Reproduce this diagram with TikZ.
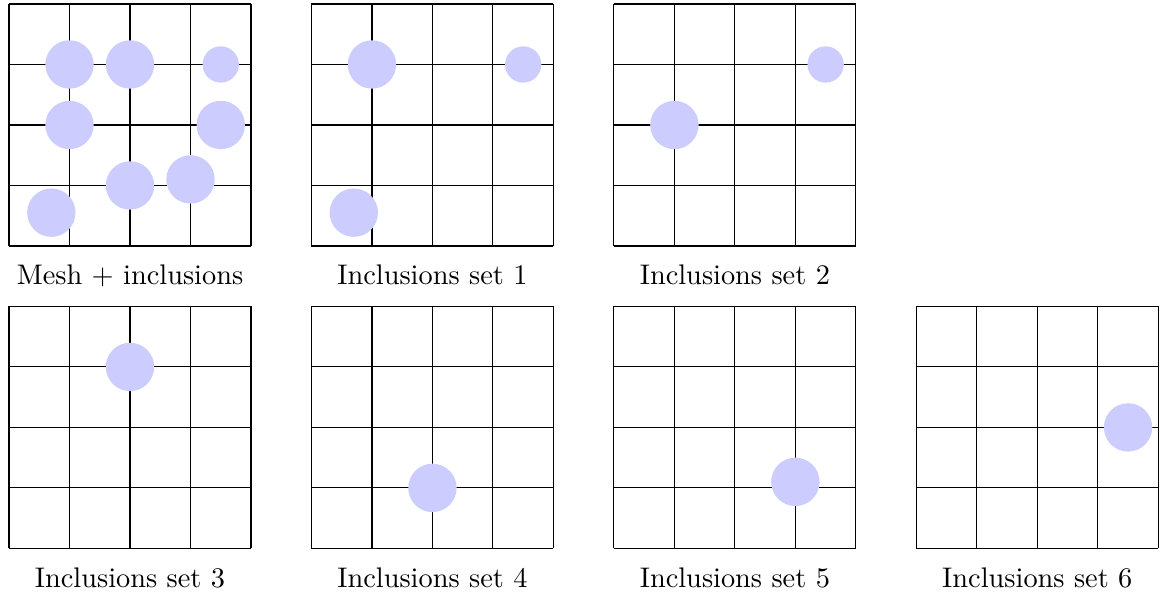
\documentclass[tikz,border=0pt]{standalone}
\usepackage{tikz}
\usetikzlibrary{positioning}
\definecolor{inclFill}{HTML}{CCCCFF}
\tikzset{
  meshLine/.style={draw=black, line width=0.4pt},
  inclBig/.style={fill=inclFill, draw=none},
  inclSmall/.style={fill=inclFill, draw=none},
  setLabel/.style={anchor=base, font=\normalsize},
}

\begin{document}
\begin{tikzpicture}[scale=0.75]
  \useasboundingbox (-0.149,-5.77) rectangle (19.028,4.066);

  % meshes
  \foreach \px/\py in {0/0, 5/0, 10/0, 0/-5, 5/-5, 10/-5, 15/-5}
    \draw[meshLine] (\px,\py) grid (\px+4,\py+4);

  % mesh + all inclusions
  \foreach \cx/\cy in {1/3, 2/3, 1/2, 3.5/2, 2/1, 3/1.1, 0.7/0.55}
    \fill[inclBig] (\cx,\cy) circle (0.4);
  \fill[inclSmall] (3.5,3) circle (0.3);

  % set 1
  \fill[inclBig] (6,3) circle (0.4);
  \fill[inclSmall] (8.5,3) circle (0.3);
  \fill[inclBig] (5.7,0.55) circle (0.4);
  % set 2
  \fill[inclSmall] (13.5,3) circle (0.3);
  \fill[inclBig] (11,2) circle (0.4);
  % sets 3 to 6
  \fill[inclBig] (2,-2) circle (0.4);
  \fill[inclBig] (7,-4) circle (0.4);
  \fill[inclBig] (13,-3.9) circle (0.4);
  \fill[inclBig] (18.5,-3) circle (0.4);

  % labels
  \node[setLabel] (lblMesh) at (2,-0.645) {Mesh + inclusions};
  \node[setLabel] (lblSet1) at (7,-0.645) {Inclusions set 1};
  \node[setLabel] (lblSet2) at (12,-0.645) {Inclusions set 2};
  \node[setLabel] (lblSet3) at (2,-5.645) {Inclusions set 3};
  \node[setLabel] (lblSet4) at (7,-5.645) {Inclusions set 4};
  \node[setLabel] (lblSet5) at (12,-5.645) {Inclusions set 5};
  \node[setLabel] (lblSet6) at (17,-5.645) {Inclusions set 6};
\end{tikzpicture}
\end{document}
